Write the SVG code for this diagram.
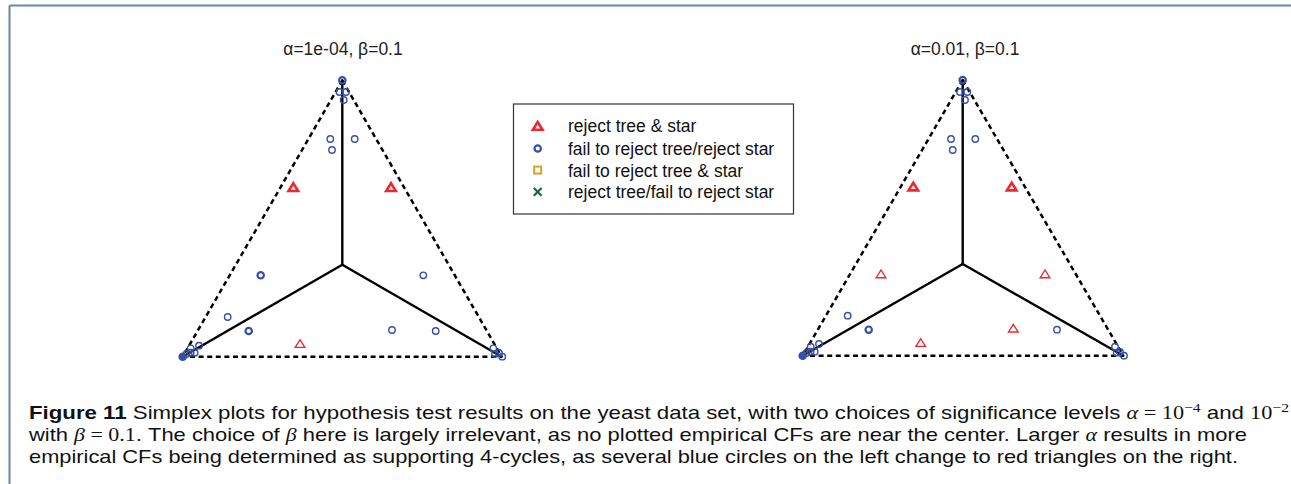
<svg xmlns="http://www.w3.org/2000/svg" xmlns:xlink="http://www.w3.org/1999/xlink" width="1291" height="484" viewBox="0 0 1291 484">
<style>
.frame{stroke:#6a86ad;stroke-width:2;fill:none}
.solid{stroke:#000;stroke-width:2.4;fill:none;stroke-linecap:round}
.dash{stroke:#000;stroke-width:2.5;fill:none;stroke-dasharray:5 3.6}
.title{font-family:"Liberation Sans",Arial,sans-serif;font-size:17.5px;fill:#222;text-anchor:middle}
.leg{font-family:"Liberation Sans",Arial,sans-serif;font-size:17.5px;fill:#111}
.cap{font-family:"Liberation Sans",Arial,sans-serif;font-size:18.5px;fill:#111}
.m{font-family:"Liberation Serif","Times New Roman",serif}
</style>
<defs>
<circle id="c" r="3.2" fill="none" stroke="#3550a8" stroke-width="1.4"/>
<circle id="cb" r="3.2" fill="none" stroke="#3550a8" stroke-width="2.2"/>
<path id="t" d="M-4.8,3.7 L4.8,3.7 L0,-4 Z" fill="none" stroke="#ee2830" stroke-width="1.4" stroke-linejoin="miter"/>
<path id="tb" d="M-4.8,3.7 L4.8,3.7 L0,-4 Z" fill="none" stroke="#ee2830" stroke-width="2.6" stroke-linejoin="miter"/>
</defs>
<rect width="1291" height="484" fill="#fff"/>
<g id="frame">
<line class="frame" x1="9.5" y1="5.5" x2="1291" y2="5.5"/>
<line class="frame" x1="9.5" y1="5.5" x2="9.5" y2="484"/>
</g>

<g id="plot-left">
<text class="title" x="343" y="55">α=1e-04, β=0.1</text>
<g id="connectors-left">
<line class="solid" x1="342.3" y1="264.7" x2="342.3" y2="80.3"/>
<line class="solid" x1="342.3" y1="264.7" x2="182.7" y2="356.7"/>
<line class="solid" x1="342.3" y1="264.7" x2="501.7" y2="356.7"/>
<line class="dash" x1="342.3" y1="80.3" x2="182.7" y2="356.7"/>
<line class="dash" x1="342.3" y1="80.3" x2="501.7" y2="356.7"/>
<line class="dash" x1="190" y1="356.7" x2="501.7" y2="356.7"/>
</g>
<g id="points-left">
<use href="#cb" x="342.3" y="80.3"/>
<use href="#c" x="339.5" y="92"/>
<use href="#c" x="346" y="92"/>
<use href="#c" x="343.7" y="100"/>
<use href="#c" x="330.3" y="139"/>
<use href="#c" x="354.7" y="139"/>
<use href="#c" x="332" y="150"/>
<use href="#cb" x="260.7" y="275.3"/>
<use href="#c" x="423.3" y="275.3"/>
<use href="#c" x="227.7" y="317"/>
<use href="#cb" x="248.7" y="331"/>
<use href="#c" x="392" y="330"/>
<use href="#c" x="435.7" y="331"/>
<circle cx="182.7" cy="356.7" r="3.6" fill="#3550a8"/>
<use href="#cb" x="182.7" y="356.7"/>
<use href="#c" x="186.5" y="354"/>
<use href="#c" x="190.7" y="352.7"/>
<use href="#c" x="194.7" y="352.7"/>
<use href="#c" x="199" y="345.7"/>
<use href="#c" x="190.7" y="348.3"/>
<use href="#c" x="493.3" y="348.3"/>
<use href="#c" x="495" y="354"/>
<use href="#c" x="499" y="353"/>
<use href="#c" x="502.3" y="356.7"/>
<use href="#tb" x="293.3" y="187.3"/>
<use href="#tb" x="391" y="187.3"/>
<use href="#t" x="300" y="343.7"/>
</g>
</g>

<g id="legend">
<rect x="513.5" y="104" width="280" height="110" fill="#fff" stroke="#333" stroke-width="1.2"/>
<use href="#tb" x="537.7" y="126"/>
<use href="#cb" x="537.7" y="148.5"/>
<rect x="534.2" y="166.6" width="7" height="7" fill="none" stroke="#d9a02a" stroke-width="2"/>
<path d="M533.8,188 L541.6,195.8 M541.6,188 L533.8,195.8" stroke="#1d6b38" stroke-width="2.3" fill="none"/>
<text class="leg" x="568" y="132">reject tree &amp; star</text>
<text class="leg" x="568" y="154.5">fail to reject tree/reject star</text>
<text class="leg" x="568" y="176.5">fail to reject tree &amp; star</text>
<text class="leg" x="568" y="198">reject tree/fail to reject star</text>
</g>

<g id="plot-right">
<text class="title" x="965" y="55">α=0.01, β=0.1</text>
<g id="connectors-right">
<line class="solid" x1="962.7" y1="264" x2="962.7" y2="80"/>
<line class="solid" x1="962.7" y1="264" x2="802.7" y2="355.7"/>
<line class="solid" x1="962.7" y1="264" x2="1123.3" y2="355.7"/>
<line class="dash" x1="962.7" y1="80" x2="802.7" y2="355.7"/>
<line class="dash" x1="962.7" y1="80" x2="1123.3" y2="355.7"/>
<line class="dash" x1="810" y1="355.7" x2="1123.3" y2="355.7"/>
</g>
<g id="points-right">
<use href="#cb" x="962.7" y="80"/>
<use href="#c" x="960" y="92"/>
<use href="#c" x="967.3" y="92"/>
<use href="#c" x="965" y="100"/>
<use href="#c" x="951" y="139"/>
<use href="#c" x="975.3" y="139"/>
<use href="#c" x="952.7" y="150"/>
<use href="#c" x="847.7" y="315.7"/>
<use href="#cb" x="868.7" y="329.7"/>
<use href="#c" x="1057" y="329.7"/>
<circle cx="802.7" cy="355.7" r="3.6" fill="#3550a8"/>
<use href="#cb" x="802.7" y="355.7"/>
<use href="#c" x="806.5" y="353"/>
<use href="#c" x="810.7" y="351.7"/>
<use href="#c" x="814.7" y="351.7"/>
<use href="#c" x="819" y="344"/>
<use href="#c" x="810.7" y="346.7"/>
<use href="#c" x="1115" y="346.7"/>
<use href="#c" x="1116.7" y="352.7"/>
<use href="#c" x="1120" y="352"/>
<use href="#c" x="1124" y="355.7"/>
<use href="#tb" x="913.3" y="186.7"/>
<use href="#tb" x="1011.7" y="186.7"/>
<use href="#t" x="881" y="274"/>
<use href="#t" x="1045" y="274"/>
<use href="#t" x="1013.3" y="328.3"/>
<use href="#t" x="920.7" y="342.7"/>
</g>
</g>

<g id="caption">
<text class="cap" x="29" y="419" textLength="1260" lengthAdjust="spacingAndGlyphs"><tspan font-weight="bold">Figure 11</tspan>  Simplex plots for hypothesis test results on the yeast data set, with two choices of significance levels <tspan class="m" font-style="italic">α</tspan><tspan class="m"> = 10</tspan><tspan class="m" font-size="13" dy="-7">−4</tspan><tspan dy="7"> and </tspan><tspan class="m">10</tspan><tspan class="m" font-size="13" dy="-7">−2</tspan></text>
<text class="cap" x="29" y="441" textLength="1218" lengthAdjust="spacingAndGlyphs">with <tspan class="m" font-style="italic">β</tspan><tspan class="m"> = 0.1</tspan>. The choice of <tspan class="m" font-style="italic">β</tspan> here is largely irrelevant, as no plotted empirical CFs are near the center. Larger <tspan class="m" font-style="italic">α</tspan> results in more</text>
<text class="cap" x="29" y="463" textLength="1209" lengthAdjust="spacingAndGlyphs">empirical CFs being determined as supporting 4-cycles, as several blue circles on the left change to red triangles on the right.</text>
</g>
</svg>
